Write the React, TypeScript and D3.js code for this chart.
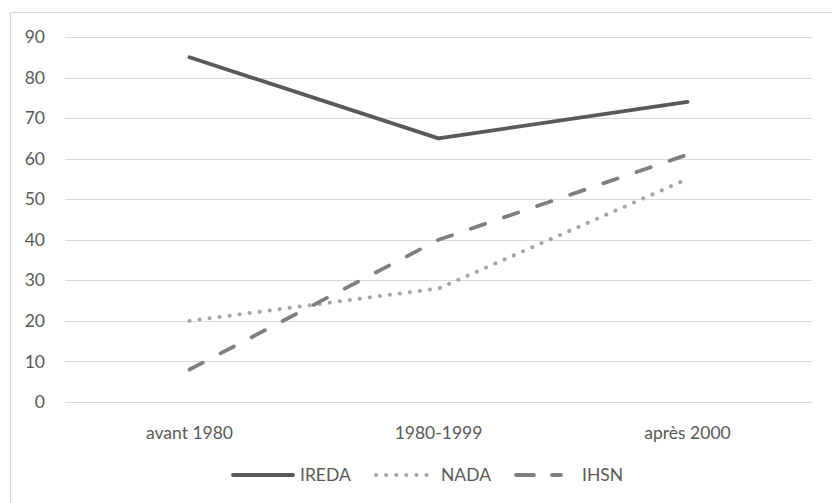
import React, { useEffect, useRef } from "react";
import * as d3 from "d3";

const categories = ["avant 1980", "1980-1999", "après 2000"];
const ireda = [85, 65, 74];
const nada = [20, 28, 55];
const ihsn = [8, 40, 61];
const yTicks = [0, 10, 20, 30, 40, 50, 60, 70, 80, 90];
const seriesNames = ["IREDA", "NADA", "IHSN"];

const W = 832;
const H = 503;
const FONT = "Lato, 'Open Sans', sans-serif";
const FS = 17.5;

export default function App() {
  const ref = useRef<SVGSVGElement>(null);
  useEffect(() => {
    const svg = d3.select(ref.current);
    svg.selectAll("*").remove();

    svg.append("rect").attr("x", 0).attr("y", 0).attr("width", W).attr("height", H).attr("fill", "#fff");
    svg.append("rect").attr("x", 10.5).attr("y", 12.5).attr("width", 830).attr("height", 500)
      .attr("fill", "none").attr("stroke", "#d9d9d9").attr("stroke-width", 1.2);

    const x = d3.scaleBand().domain(categories).range([65, 812]);
    const y = d3.scaleLinear().domain([0, 90]).range([402, 37]);

    const g = svg.append("g");
    yTicks.forEach((t) => {
      g.append("line").attr("x1", 65).attr("x2", 812)
        .attr("y1", Math.round(y(t)) + 0.5).attr("y2", Math.round(y(t)) + 0.5)
        .attr("stroke", "#d9d9d9").attr("stroke-width", 1.2);
      g.append("text").attr("x", 45).attr("y", y(t)).attr("dy", "0.35em")
        .attr("text-anchor", "end").attr("font-family", FONT).attr("font-size", FS)
        .attr("fill", "#595959").text(String(t));
    });

    categories.forEach((c) => {
      g.append("text").attr("x", x(c)! + x.bandwidth() / 2).attr("y", 433).attr("dy", "0.35em")
        .attr("text-anchor", "middle").attr("font-family", FONT).attr("font-size", FS)
        .attr("fill", "#595959").text(c);
    });

    const styles = [
      { data: ireda, color: "#595959", dash: null as string | null, width: 3.8 },
      { data: nada, color: "#a6a6a6", dash: "0.1 10", width: 4 },
      { data: ihsn, color: "#7f7f7f", dash: "15 20", width: 3.8 },
    ];
    const line = d3.line<number>()
      .x((_, i) => x(categories[i])! + x.bandwidth() / 2)
      .y((d) => y(d));

    styles.forEach((s) => {
      const p = g.append("path").attr("d", line(s.data)!).attr("fill", "none")
        .attr("stroke", s.color).attr("stroke-width", s.width)
        .attr("stroke-linecap", "round").attr("stroke-linejoin", "round");
      if (s.dash) p.attr("stroke-dasharray", s.dash);
    });

    // legend
    const legendY = 475;
    const legendItems = [
      { x1: 233, x2: 293, tx: 300 },
      { x1: 376, x2: 430, tx: 441 },
      { x1: 517, x2: 561, tx: 582 },
    ];
    legendItems.forEach((li, i) => {
      const s = styles[i];
      if (i === 2) {
        g.append("line").attr("x1", 516).attr("x2", 534).attr("y1", legendY).attr("y2", legendY)
          .attr("stroke", s.color).attr("stroke-width", s.width).attr("stroke-linecap", "round");
        g.append("line").attr("x1", 552).attr("x2", 561).attr("y1", legendY).attr("y2", legendY)
          .attr("stroke", s.color).attr("stroke-width", s.width).attr("stroke-linecap", "round");
      } else {
        const l = g.append("line").attr("x1", li.x1).attr("x2", li.x2).attr("y1", legendY).attr("y2", legendY)
          .attr("stroke", s.color).attr("stroke-width", s.width).attr("stroke-linecap", "round");
        if (s.dash) l.attr("stroke-dasharray", s.dash);
      }
      g.append("text").attr("x", li.tx).attr("y", legendY).attr("dy", "0.35em")
        .attr("font-family", FONT).attr("font-size", FS).attr("fill", "#595959").text(seriesNames[i]);
    });
  }, []);

  return (
    <svg ref={ref} width={W} height={H} style={{ position: "absolute", left: 0, top: 0, display: "block" }} />
  );
}
